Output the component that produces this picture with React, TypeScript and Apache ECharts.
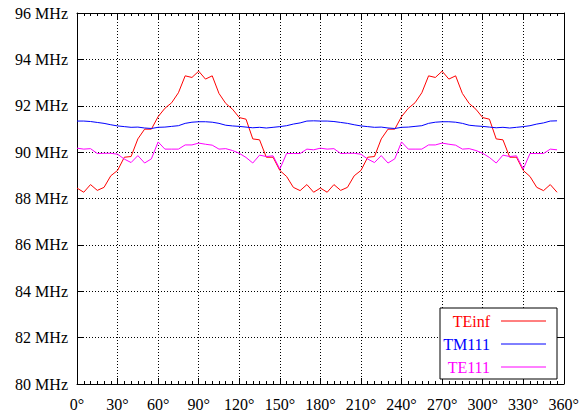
import React, { useEffect, useRef } from "react";
import * as echarts from "echarts";

const angles = [
  0, 5, 10, 15, 20, 25, 30, 35, 40, 45, 50, 55, 60, 65, 70, 75, 80, 85,
  90, 95, 100, 105, 110, 115, 120, 125, 130, 135, 140, 145, 150, 155, 160, 165, 170, 175,
  180, 185, 190, 195, 200, 205, 210, 215, 220, 225, 230, 235, 240, 245, 250, 255, 260, 265,
  270, 275, 280, 285, 290, 295, 300, 305, 310, 315, 320, 325, 330, 335, 340, 345, 350, 355,
];

const teInf = [
  88.45, 88.27, 88.6, 88.35, 88.48, 88.98, 89.21, 89.78, 89.81, 90.57, 90.99, 90.99, 91.53, 91.89, 92.13, 92.56, 93.29, 93.22,
  93.49, 93.15, 93.29, 92.53, 92.1, 91.85, 91.49, 91.42, 90.57, 90.53, 89.78, 89.78, 89.21, 88.95, 88.48, 88.34, 88.6, 88.27,
  88.45, 88.27, 88.6, 88.35, 88.48, 88.98, 89.21, 89.78, 89.81, 90.57, 90.99, 90.99, 91.53, 91.89, 92.13, 92.56, 93.29, 93.22,
  93.49, 93.15, 93.29, 92.53, 92.1, 91.85, 91.49, 91.42, 90.57, 90.53, 89.78, 89.78, 89.21, 88.95, 88.48, 88.34, 88.6, 88.27,
];

const tm111 = [
  91.34, 91.34, 91.32, 91.28, 91.24, 91.18, 91.13, 91.1, 91.07, 91.08, 91.04, 91.02, 91.07, 91.08, 91.11, 91.14, 91.24, 91.29,
  91.31, 91.31, 91.29, 91.24, 91.16, 91.13, 91.11, 91.08, 91.05, 91.07, 91.04, 91.07, 91.1, 91.14, 91.21, 91.26, 91.34, 91.35,
  91.34, 91.34, 91.32, 91.28, 91.24, 91.18, 91.13, 91.1, 91.07, 91.08, 91.04, 91.02, 91.07, 91.08, 91.11, 91.14, 91.24, 91.29,
  91.31, 91.31, 91.29, 91.24, 91.16, 91.13, 91.11, 91.08, 91.05, 91.07, 91.04, 91.07, 91.1, 91.14, 91.21, 91.26, 91.34, 91.35,
];

const te111 = [
  90.17, 90.13, 90.15, 89.94, 89.95, 89.95, 89.91, 89.7, 89.55, 89.85, 89.53, 89.71, 90.44, 90.13, 90.13, 90.13, 90.31, 90.31,
  90.39, 90.34, 90.3, 90.13, 90.15, 90.07, 89.95, 89.77, 89.53, 89.87, 89.81, 89.84, 89.27, 89.94, 89.94, 89.94, 90.13, 90.1,
  90.17, 90.13, 90.15, 89.94, 89.95, 89.95, 89.91, 89.7, 89.55, 89.85, 89.53, 89.71, 90.44, 90.13, 90.13, 90.13, 90.31, 90.31,
  90.39, 90.34, 90.3, 90.13, 90.15, 90.07, 89.95, 89.77, 89.53, 89.87, 89.81, 89.84, 89.27, 89.94, 89.94, 89.94, 90.13, 90.1,
];

const seriesNames = ["TEinf", "TM111", "TE111"];
const seriesColors = ["#ff0000", "#0000ff", "#ff00ff"];

const FONT = "'Liberation Serif', 'Times New Roman', serif";

export default function App() {
  const ref = useRef<HTMLDivElement>(null);

  useEffect(() => {
    if (!ref.current) return;
    const chart = echarts.init(ref.current, null, { renderer: "svg" });
    const allData = [teInf, tm111, te111];

    const xCommon = {
      type: "value" as const,
      min: 0,
      max: 360,
      interval: 30,
      axisLine: { show: true, onZero: false, lineStyle: { color: "#000", width: 1 } },
      axisTick: { show: true, inside: true, length: 6, lineStyle: { color: "#000" } },
      minorTick: { show: true, splitNumber: 6, length: 3, lineStyle: { color: "#000" } },
    };
    const yCommon = {
      type: "value" as const,
      min: 80,
      max: 96,
      interval: 2,
      axisLine: { show: true, onZero: false, lineStyle: { color: "#000", width: 1 } },
      axisTick: { show: true, inside: true, length: 6, lineStyle: { color: "#000" } },
    };

    const legendItems: any[] = [
      {
        type: "rect",
        shape: { x: 440, y: 308, width: 117, height: 71 },
        style: { fill: "#fff", stroke: "#000", lineWidth: 1 },
        z: 100,
      },
    ];
    const rowsY = [321, 344, 367];
    seriesNames.forEach((name, i) => {
      legendItems.push({
        type: "text",
        x: 490,
        y: rowsY[i],
        style: {
          text: name,
          fill: seriesColors[i],
          fontSize: 16,
          fontFamily: FONT,
          align: "right",
          verticalAlign: "middle",
        },
        z: 101,
      });
      legendItems.push({
        type: "line",
        shape: { x1: 501, y1: rowsY[i], x2: 546, y2: rowsY[i] },
        style: { stroke: seriesColors[i], lineWidth: 1 },
        z: 101,
      });
    });

    chart.setOption({
      animation: false,
      backgroundColor: "#fff",
      grid: { left: 77, right: 15, top: 13, bottom: 30, containLabel: false },
      xAxis: [
        {
          ...xCommon,
          position: "bottom",
          axisLabel: {
            show: true,
            margin: 12,
            color: "#000",
            fontSize: 16,
            fontFamily: FONT,
            formatter: (v: number) => `${v}°`,
          },
          splitLine: { show: true, lineStyle: { color: "#000", width: 1, type: [1, 2] } },
        },
        {
          ...xCommon,
          position: "top",
          axisLabel: { show: false },
          splitLine: { show: false },
        },
      ],
      yAxis: [
        {
          ...yCommon,
          position: "left",
          axisLabel: {
            show: true,
            margin: 9,
            color: "#000",
            fontSize: 16,
            fontFamily: FONT,
            formatter: (v: number) => `${v} MHz`,
          },
          splitLine: { show: true, lineStyle: { color: "#000", width: 1, type: [1, 2] } },
        },
        {
          ...yCommon,
          position: "right",
          axisLabel: { show: false },
          splitLine: { show: false },
        },
      ],
      series: seriesNames.map((name, i) => ({
        name,
        type: "line",
        xAxisIndex: 0,
        yAxisIndex: 0,
        data: angles.map((a, j) => [a, allData[i][j]]),
        showSymbol: false,
        symbol: "none",
        lineStyle: { color: seriesColors[i], width: 1 },
        itemStyle: { color: seriesColors[i] },
        z: 5,
      })),
      graphic: legendItems,
    });

    return () => chart.dispose();
  }, []);

  return (
    <div
      ref={ref}
      style={{ position: "fixed", left: 0, top: 0, width: 582, height: 414, background: "#fff" }}
    />
  );
}
